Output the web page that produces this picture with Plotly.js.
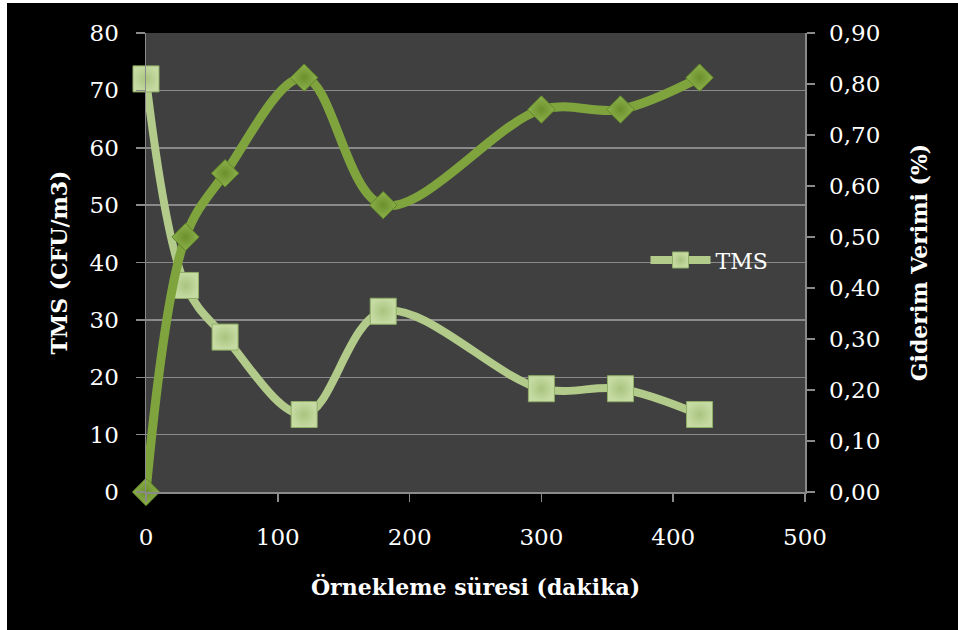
<!DOCTYPE html>
<html>
<head>
<meta charset="utf-8">
<script src="https://cdn.plot.ly/plotly-3.0.1.min.js"></script>
<style>
  html, body { margin: 0; padding: 0; background: #ffffff; }
  #chart { position: absolute; left: 7px; top: 3px; width: 951px; height: 627px; }
</style>
</head>
<body>
<div id="chart"></div>
<script>
// Sampling time (minutes)
const sure = [0, 30, 60, 120, 180, 300, 360, 420];
// Total microorganism count, CFU/m3 (left axis)
const tms = [72, 36, 27, 13.5, 31.5, 18, 18, 13.5];
// Removal efficiency (right axis)
const verim = [0, 0.50, 0.625, 0.8125, 0.5625, 0.75, 0.75, 0.8125];

const leftTicks = [0, 10, 20, 30, 40, 50, 60, 70, 80];
const rightTicks = [0, 0.1, 0.2, 0.3, 0.4, 0.5, 0.6, 0.7, 0.8, 0.9];
const rightLabels = rightTicks.map(v => v.toFixed(2).replace('.', ','));
const xTicks = [0, 100, 200, 300, 400, 500];

const serif = 'DejaVu Serif, Liberation Serif, serif';
const gridGray = '#8a8a8a';
const tickFont = { family: serif, size: 23, color: '#ffffff' };
const titleFont = { family: serif, size: 22, color: '#ffffff', weight: 'bold' };

const traces = [
  {
    name: 'Giderim Verimi',
    x: sure, y: verim, yaxis: 'y2',
    mode: 'lines+markers', cliponaxis: false,
    line: { shape: 'spline', smoothing: 1, color: '#7fa43e', width: 9 },
    marker: {
      symbol: 'diamond', size: 21, color: '#8db24c',
      gradient: { type: 'radial', color: '#6a8f2c' },
      line: { color: '#5f8526', width: 1 }
    },
    showlegend: false, hoverinfo: 'x+y'
  },
  {
    name: 'TMS',
    x: sure, y: tms,
    mode: 'lines+markers', cliponaxis: false,
    line: { shape: 'spline', smoothing: 1, color: '#b2cb8a', width: 8 },
    marker: {
      symbol: 'square', size: 26, color: '#c6dba3',
      gradient: { type: 'radial', color: '#a9c47f' },
      line: { color: '#8fae66', width: 1 }
    },
    hoverinfo: 'x+y'
  }
];

const layout = {
  width: 951, height: 627,
  margin: { l: 139, r: 153, t: 30, b: 138 },
  paper_bgcolor: '#000000',
  plot_bgcolor: '#404040',
  font: { family: serif, color: '#ffffff', size: 20 },
  showlegend: true,
  legend: {
    x: 0.758, y: 0.505, xanchor: 'left', yanchor: 'middle',
    bgcolor: 'rgba(0,0,0,0)', itemwidth: 60,
    font: { family: serif, size: 22, color: '#ffffff' }
  },
  xaxis: {
    range: [0, 500], tickvals: xTicks, ticktext: xTicks.map(String),
    showgrid: false, zeroline: false,
    showline: true, linecolor: gridGray, linewidth: 1.5,
    ticks: 'outside', ticklen: 8, tickcolor: gridGray, tickwidth: 1.5,
    ticklabelstandoff: 16,
    tickfont: tickFont,
    title: { text: 'Örnekleme süresi (dakika)', standoff: 30, font: titleFont }
  },
  yaxis: {
    range: [0, 80], tickvals: leftTicks, ticktext: leftTicks.map(String),
    showgrid: true, gridcolor: gridGray, gridwidth: 1.5, zeroline: false,
    showline: true, linecolor: gridGray, linewidth: 1.5,
    ticks: 'outside', ticklen: 9, tickcolor: gridGray, tickwidth: 1.5,
    ticklabelstandoff: 12,
    tickfont: tickFont,
    title: { text: 'TMS (CFU/m3)', standoff: 16, font: titleFont }
  },
  yaxis2: {
    overlaying: 'y', side: 'right',
    range: [0, 0.9], tickvals: rightTicks, ticktext: rightLabels,
    showgrid: false, zeroline: false,
    showline: true, linecolor: gridGray, linewidth: 1.5,
    ticks: 'outside', ticklen: 8, tickcolor: gridGray, tickwidth: 1.5,
    ticklabelstandoff: 10,
    tickfont: tickFont,
    title: { text: 'Giderim Verimi (%)', standoff: 32, font: titleFont }
  }
};

Plotly.newPlot('chart', traces, layout, { displayModeBar: false, staticPlot: true });
</script>
</body>
</html>
